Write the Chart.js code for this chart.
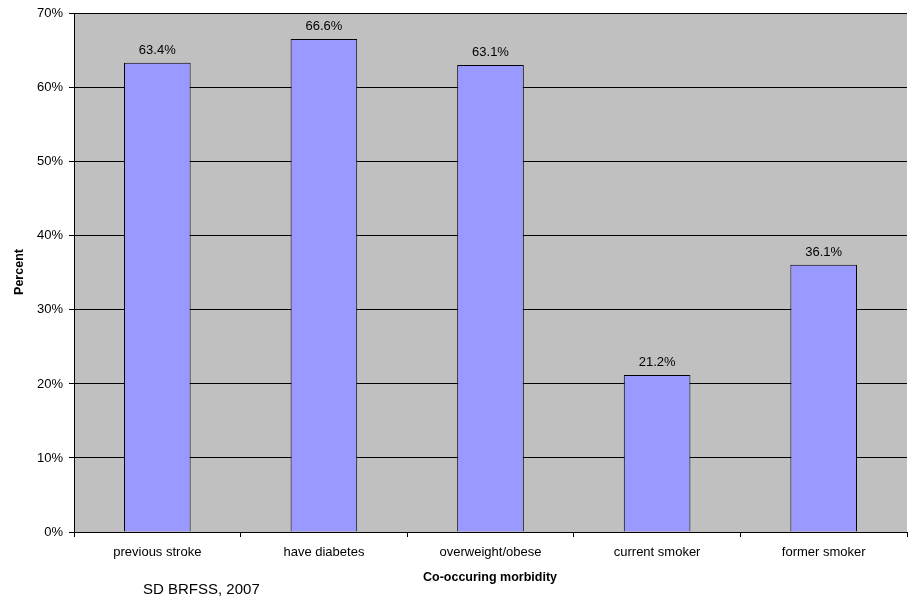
<!DOCTYPE html>
<html>
<head>
<meta charset="utf-8">
<script src="https://cdn.jsdelivr.net/npm/chart.js@4"></script>
<style>
  html, body { margin: 0; padding: 0; background: #fff; }
  #wrap { width: 909px; height: 598px; }
</style>
</head>
<body>
<div id="wrap"><canvas id="chart" width="909" height="598"></canvas></div>
<script>
const categories = ['previous stroke', 'have diabetes', 'overweight/obese', 'current smoker', 'former smoker'];
const percents = [63.4, 66.6, 63.1, 21.2, 36.1];
const yTicks = [0, 10, 20, 30, 40, 50, 60, 70];

const FONT = 'Liberation Sans, Arial, sans-serif';

// gray plot background + labels on bars + axis titles
const extras = {
    id: 'extras',
    beforeDraw(chart) {
        const a = chart.chartArea;
        const ctx = chart.ctx;
        ctx.save();
        ctx.fillStyle = '#C0C0C0';
        ctx.fillRect(a.left, a.top, a.right - a.left, a.bottom - a.top);
        ctx.restore();
    },
    afterDraw(chart) {
        const ctx = chart.ctx;
        const meta = chart.getDatasetMeta(0);
        ctx.save();
        ctx.fillStyle = '#000';
        ctx.font = '13px ' + FONT;
        ctx.textAlign = 'center';
        ctx.textBaseline = 'alphabetic';
        meta.data.forEach((bar, i) => {
            ctx.fillText(percents[i].toFixed(1) + '%', bar.x, bar.y - 9);
        });

        ctx.font = 'bold 12.5px ' + FONT;
        ctx.textBaseline = 'middle';
        ctx.fillText('Co-occuring morbidity', 490, 578);

        ctx.save();
        ctx.translate(20, 272);
        ctx.rotate(-Math.PI / 2);
        ctx.fillText('Percent', 0, 0);
        ctx.restore();

        ctx.font = '15px ' + FONT;
        ctx.textAlign = 'left';
        ctx.fillText('SD BRFSS, 2007', 143, 590);
        ctx.restore();
    }
};

new Chart(document.getElementById('chart'), {
    type: 'bar',
    data: {
        labels: categories,
        datasets: [{
            data: percents,
            backgroundColor: '#9999FF',
            borderColor: '#000',
            borderWidth: 1,
            borderSkipped: 'start',
            categoryPercentage: 1,
            barPercentage: 0.4
        }]
    },
    options: {
        responsive: false,
        animation: false,
        devicePixelRatio: 1,
        layout: { padding: { left: 0, top: 12, right: 2, bottom: 0 } },
        plugins: {
            legend: { display: false },
            tooltip: { enabled: false }
        },
        scales: {
            x: {
                offset: true,
                grid: {
                    offset: true,
                    drawOnChartArea: false,
                    color: '#000',
                    tickLength: 5
                },
                border: { color: '#000' },
                ticks: {
                    color: '#000',
                    font: { family: FONT, size: 13 },
                    padding: 8,
                    maxRotation: 0
                },
                afterFit(scale) { scale.height = 66; }
            },
            y: {
                min: 0,
                max: 70,
                afterBuildTicks(scale) { scale.ticks = yTicks.map(v => ({ value: v })); },
                grid: { color: '#000', tickLength: 5 },
                border: { color: '#000' },
                ticks: {
                    color: '#000',
                    font: { family: FONT, size: 13 },
                    padding: 6,
                    callback: v => v + '%'
                },
                afterFit(scale) { scale.width = 74; }
            }
        }
    },
    plugins: [extras]
});
</script>
</body>
</html>
